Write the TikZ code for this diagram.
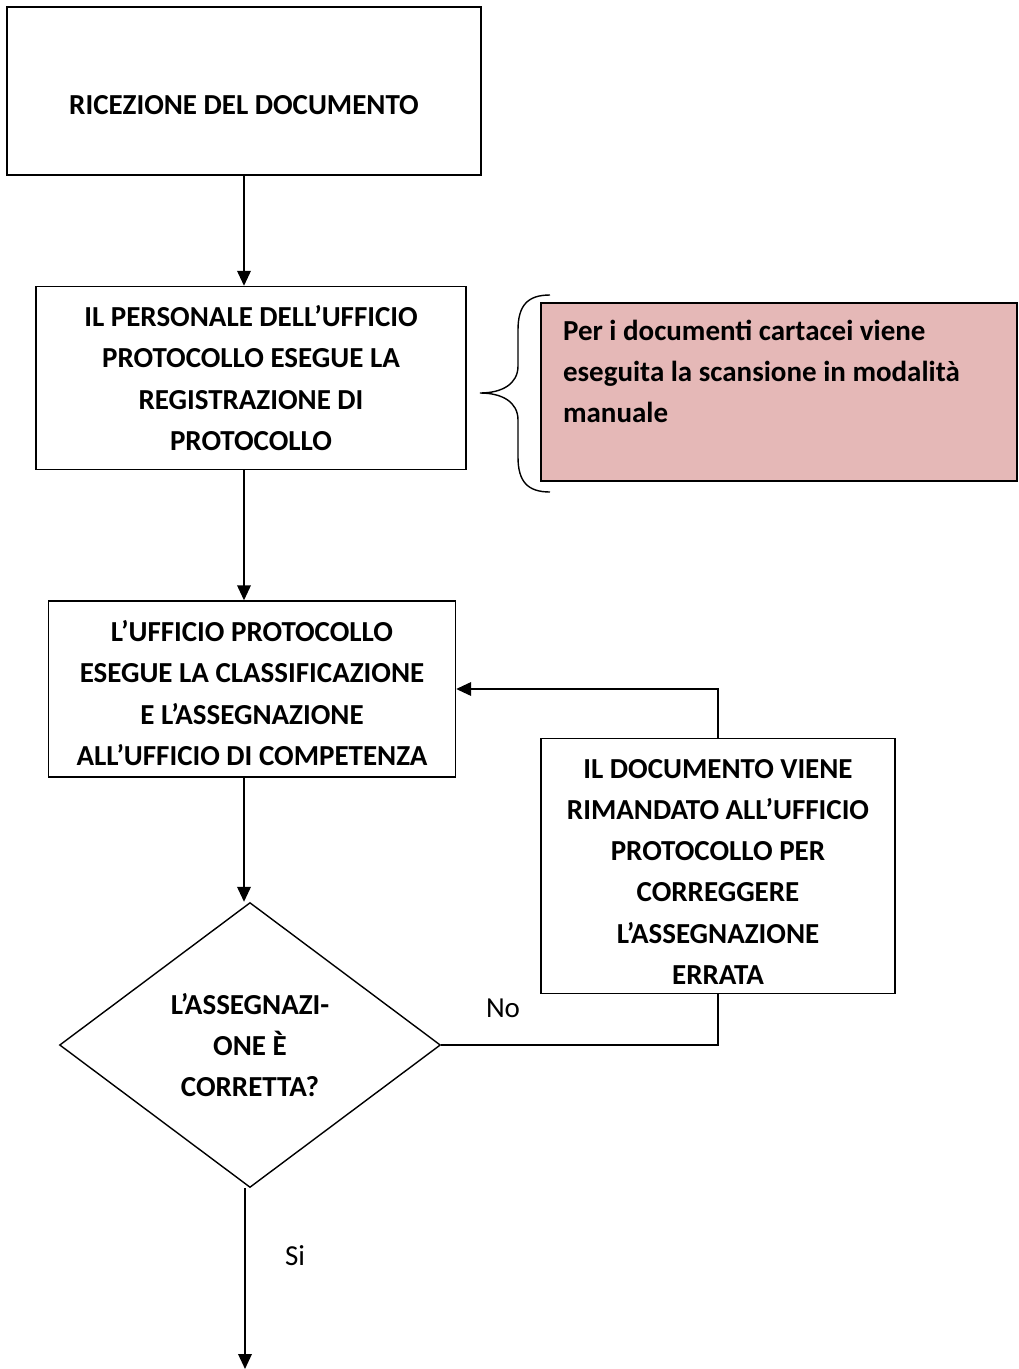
\documentclass[tikz,border=0pt]{standalone}
\usepackage{fontspec}
\setmainfont{Carlito}
\usepackage{tikz}
\usetikzlibrary{calc, arrows.meta, shapes.geometric}
\tikzstyle{riquadro} = [rectangle, draw=black, line width=0.8pt, align=center, inner sep=0pt, font=\fontsize{16.5}{23.5}\selectfont\bfseries]
\tikzstyle{nota} = [rectangle, draw=black, line width=0.8pt, fill=rosa, align=flush left, inner xsep=0.44cm, inner ysep=0pt, text width=8.64cm, font=\fontsize{16.5}{23.5}\selectfont\bfseries]
\tikzstyle{decisione} = [diamond, draw=black, line width=0.8pt, align=center, inner sep=0pt, font=\fontsize{16.5}{23.5}\selectfont\bfseries]
\tikzstyle{etichetta} = [inner sep=0pt, font=\fontsize{16.5}{23.5}\selectfont]
\tikzstyle{freccia} = [line width=1.1pt, -{Triangle[length=0.3cm, width=0.27cm]}]
\usepackage{xcolor}
\definecolor{rosa}{HTML}{E5B8B7}

\begin{document}
\begin{tikzpicture}[x=0.02cm, y=-0.02cm]

        \useasboundingbox (0,0) rectangle (1018,1369);

        \node (ricezione) [riquadro, minimum width=9.48cm, minimum height=3.36cm] at (244,91) {\rule{0pt}{26.4pt}RICEZIONE DEL DOCUMENTO};

        \node (registrazione) [riquadro, minimum width=8.6cm, minimum height=3.66cm] at (251,378) {IL PERSONALE DELL’UFFICIO\\PROTOCOLLO ESEGUE LA\\REGISTRAZIONE DI\\PROTOCOLLO};
        \node (scansione) [nota, minimum height=3.56cm] at (779,392) {Per i documenti cartacei viene\\eseguita la scansione in modalità\\manuale\\\mbox{}};

        \draw [line width=0.8pt] (550,295) .. controls (528,295) and (518,305) .. (518,330) -- (518,366) .. controls (518,384) and (502,393) .. (480,393) .. controls (502,393) and (518,402) .. (518,420) -- (518,457) .. controls (518,482) and (528,492) .. (550,492);

        \node (classificazione) [riquadro, minimum width=8.14cm, minimum height=3.52cm] at (252,689) {\rule{0pt}{16.6pt}L’UFFICIO PROTOCOLLO\\ESEGUE LA CLASSIFICAZIONE\\E L’ASSEGNAZIONE\\ALL’UFFICIO DI COMPETENZA};

        \node (rimando) [riquadro, minimum width=7.08cm, minimum height=5.1cm] at (718,866) {\rule{0pt}{17.4pt}IL DOCUMENTO VIENE\\RIMANDATO ALL’UFFICIO\\PROTOCOLLO PER\\CORREGGERE\\L’ASSEGNAZIONE\\ERRATA};

        \node (verifica) [decisione, minimum width=7.62cm, minimum height=5.7cm] at (250,1045) {L’ASSEGNAZI-\\ONE È\\CORRETTA?};

        \node (no) [etichetta] at (503,1008) {No};
        \node (si) [etichetta] at (295,1256) {Si};
        \coordinate (fine) at (245,1369);

        \draw [freccia] (ricezione.south) -- (ricezione.south |- registrazione.north);
        \draw [freccia] (ricezione.south |- registrazione.south) -- (ricezione.south |- classificazione.north);
        \draw [freccia] (ricezione.south |- classificazione.south) -- (ricezione.south |- verifica.north);
        \draw [line width=0.8pt] (verifica.east) -| (rimando.south);
        \draw [freccia] (rimando.north) |- (classificazione.east);
        \draw [freccia] (fine |- verifica.south) -- (fine);

    \end{tikzpicture}
\end{document}
